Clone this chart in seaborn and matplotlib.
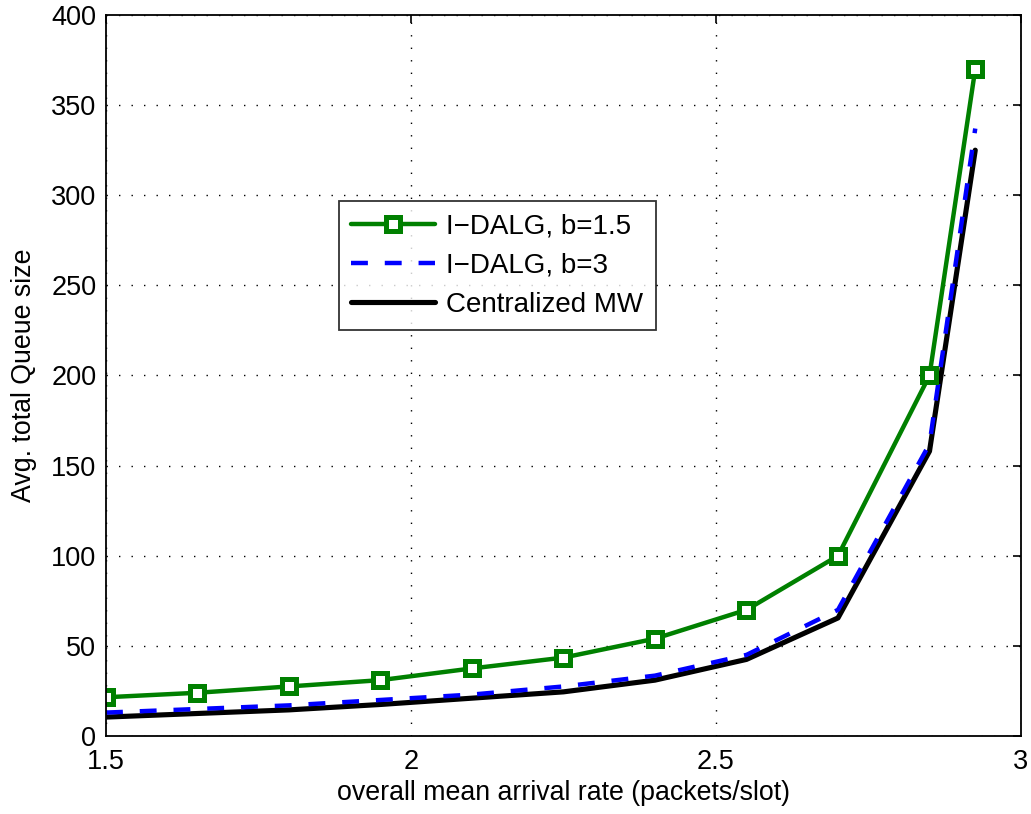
import numpy as np
import pandas as pd
import matplotlib
matplotlib.use("Agg")
import matplotlib.pyplot as plt
import seaborn as sns

# Arrival rates (packets/slot) and average total queue sizes per scheme
arrival_rate = [1.5, 1.65, 1.8, 1.95, 2.1, 2.25, 2.4, 2.55, 2.7, 2.85, 2.925]
idalg_b15 = [21.5, 24, 27.5, 31, 37.5, 43.5, 54, 70, 100, 200, 370]
idalg_b3 = [13, 15, 17, 20, 23, 27.5, 33.5, 45, 70, 162, 337]
centralized_mw = [10.5, 12.5, 14.5, 17.5, 21, 24.5, 31, 42.5, 65.5, 158, 325]

series_names = ["I\u2212DALG, b=1.5", "I\u2212DALG, b=3", "Centralized MW"]
x_ticks = [1.5, 2, 2.5, 3]
x_tick_labels = ["1.5", "2", "2.5", "3"]
y_ticks = [0, 50, 100, 150, 200, 250, 300, 350, 400]

df = pd.DataFrame({"rate": arrival_rate, "b15": idalg_b15,
                   "b3": idalg_b3, "mw": centralized_mw})

sns.set_style("white")
plt.rcParams["font.family"] = ["Liberation Sans", "DejaVu Sans"]
plt.rcParams.update({"text.color": "black", "axes.labelcolor": "black",
                     "xtick.color": "black", "ytick.color": "black"})

fig = plt.figure(figsize=(10.31, 8.14), dpi=100)
ax = fig.add_axes([0.1028, 0.0958, 0.8875, 0.8858])

GREEN, BLUE, BLACK = "#008000", "#0000ff", "#000000"
LW = 3.2
DASH = (0, (3.8, 3.8))
MS, MEW = 9.5, 3.6

sns.lineplot(data=df, x="rate", y="mw", color=BLACK, linewidth=3.7, ax=ax,
             label=series_names[2])
sns.lineplot(data=df, x="rate", y="b3", color=BLUE, linewidth=LW, ax=ax,
             label=series_names[1])
ax.lines[-1].set_linestyle(DASH)
sns.lineplot(data=df, x="rate", y="b15", color=GREEN, linewidth=LW, ax=ax,
             marker="s", markersize=MS, markerfacecolor="white",
             markeredgecolor=GREEN, markeredgewidth=MEW, label=series_names[0])
ax.get_legend().remove()

ax.set_xlim(1.5, 3)
ax.set_ylim(0, 400)
ax.set_xticks(x_ticks)
ax.set_xticklabels(x_tick_labels)
ax.set_yticks(y_ticks)
ax.tick_params(axis="both", direction="in", length=6, width=1.2, labelsize=19.5,
               top=True, right=True, color="black")
ax.tick_params(axis="y", pad=7)
ax.tick_params(axis="x", pad=9)
ax.grid(True, linestyle=(0, (1, 8)), color="black", linewidth=1.0)
for s in ax.spines.values():
    s.set_color("black")
    s.set_linewidth(1.3)

ax.set_xlabel("overall mean arrival rate (packets/slot)", fontsize=19.3, labelpad=4)
ax.set_ylabel("Avg. total Queue size", fontsize=19.3, labelpad=10)

handles = [
    plt.Line2D([], [], color=GREEN, lw=LW, marker="s", markersize=MS,
               markerfacecolor="white", markeredgewidth=MEW),
    plt.Line2D([], [], color=BLUE, lw=LW, linestyle=DASH),
    plt.Line2D([], [], color=BLACK, lw=3.7),
]
leg = ax.legend(handles, series_names, loc="upper left", bbox_to_anchor=(0.2546, 0.742),
                borderaxespad=0, fontsize=20, frameon=True, fancybox=False,
                edgecolor="black", handlelength=3.0, borderpad=0.45,
                labelspacing=0.47, handletextpad=0.42)
leg.get_frame().set_linewidth(1.3)

fig.savefig("out.png", dpi=100)
